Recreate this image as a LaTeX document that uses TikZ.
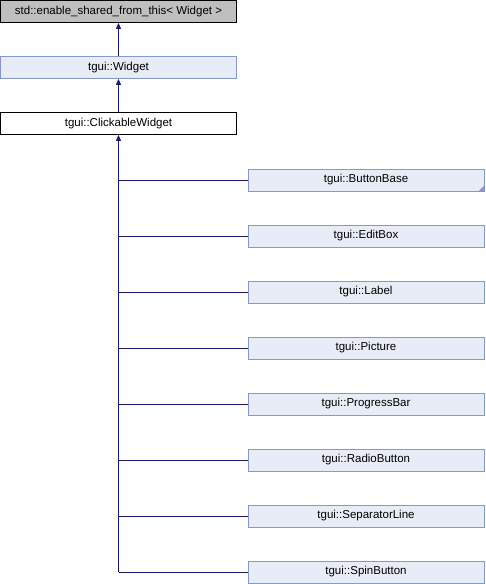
\documentclass[tikz,border=0pt]{standalone}
\usepackage{fontspec}
\setmainfont{Liberation Sans}
\usetikzlibrary{arrows.meta}
\definecolor{edgecol}{HTML}{191970}
\definecolor{boxfill}{HTML}{E8ECF6}
\definecolor{boxdraw}{HTML}{8499CC}
\definecolor{grayfill}{HTML}{BFBFBF}
\tikzset{
  base/.style={rectangle, minimum width=236pt, minimum height=22pt, inner sep=0pt, font=\fontsize{11.5}{13}\selectfont, line width=0.8pt},
  graybox/.style={base, draw=black, fill=grayfill},
  bluebox/.style={base, draw=boxdraw, fill=boxfill},
  whitebox/.style={base, draw=black, fill=white},
  edge/.style={draw=edgecol, line width=0.8pt},
  inh/.style={edge, -{Triangle[length=6pt,width=5pt]}},
}
\begin{document}
\begin{tikzpicture}[x=1pt,y=-1pt]
\useasboundingbox (0,0) rectangle (486,584);
\node[graybox] (esft) at (118.5,11.5) {std::enable\_shared\_from\_this< Widget >};
\node[bluebox] (widget) at (118.5,67.5) {tgui::Widget};
\node[whitebox] (cw) at (118.5,123.5) {tgui::ClickableWidget};
\node[bluebox] (c1) at (366,180) {tgui::ButtonBase};
\node[bluebox] (c2) at (366,236) {tgui::EditBox};
\node[bluebox] (c3) at (366,292) {tgui::Label};
\node[bluebox] (c4) at (366,348) {tgui::Picture};
\node[bluebox] (c5) at (366,404) {tgui::ProgressBar};
\node[bluebox] (c6) at (366,460) {tgui::RadioButton};
\node[bluebox] (c7) at (366,516) {tgui::SeparatorLine};
\node[bluebox] (c8) at (366,572) {tgui::SpinButton};
\fill[boxdraw] (c1.south east) -- ++(0,-6) -- ++(-6,6) -- cycle;
\draw[inh] (widget.north) -- (esft.south);
\draw[inh] (cw.north) -- (widget.south);
\coordinate (bend) at (cw.south |- c8.west);
\draw[inh] (bend) -- (cw.south);
\foreach \i in {1,...,8}{
  \draw[edge] (cw.south |- c\i.west) -- (c\i.west);
}
\end{tikzpicture}
\end{document}
